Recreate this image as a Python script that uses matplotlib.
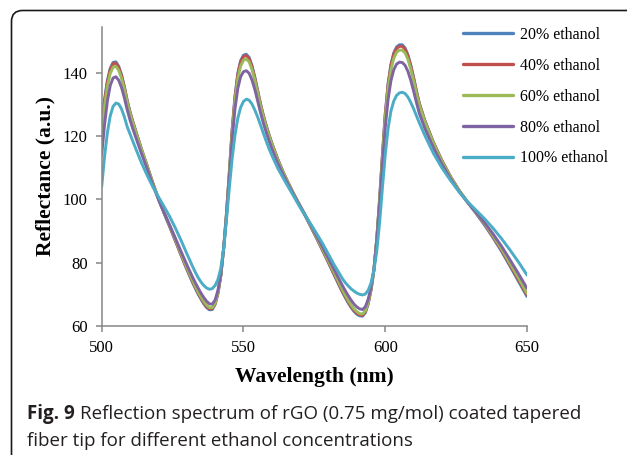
import matplotlib
matplotlib.use("Agg")
import matplotlib.pyplot as plt
from matplotlib.patches import FancyBboxPatch

# sampling grid (nm): 1 nm around peaks/dips, coarser on the slow slopes
wavelength = (list(range(500, 513)) + list(range(514, 533, 2)) + list(range(533, 554))
              + list(range(554, 561)) + list(range(562, 585, 2)) + list(range(585, 613))
              + list(range(614, 651, 3)))

# reflectance (a.u.), one list per concentration
eth_20 = [124, 131.5, 137.5, 141.3, 143.2, 143.4, 142, 139.3, 135.6, 131.2, 127.6, 124.5, 121.6,
          115.9, 110.6, 105.2, 100.2, 95.6, 91.3, 86.8, 82.3, 77.9, 73.8,
          71.9, 70.1, 68.5, 67, 65.8, 65.1, 65.2, 66.8, 70.2, 75.8, 84.5, 95.5, 108.5, 122,
          132.5, 139.8, 143.8, 145.5, 145.8, 144.8, 142.2,
          138.6, 134.4, 130.2, 126.6, 123.4, 120.5, 117.8,
          112.9, 108.6, 104.8, 101.2, 97.8, 94.4, 90.9, 87.3, 83.6, 79.9, 76.1, 72.3,
          70.5, 68.8, 67.2, 65.8, 64.6, 63.7, 63.2, 63.1, 64.2, 67, 71.4, 77.6, 87.5, 100,
          114, 127, 136.5, 142.6, 146.2, 148.1, 148.8, 148.8, 147.8, 145.6, 142.4, 138.5, 134.3, 130.4,
          124.8, 118, 112.2, 107.2, 102.8, 99.1, 95.6, 91.9, 87.9, 83.6, 78.9, 74.1, 69.3]

eth_40 = [123, 130.8, 137, 140.9, 142.8, 143, 141.6, 139, 135.3, 131, 127.4, 124.4, 121.5,
          115.9, 110.6, 105.2, 100.2, 95.7, 91.4, 87, 82.5, 78.1, 74.1,
          72.2, 70.4, 68.8, 67.3, 66.1, 65.4, 65.5, 67, 70.4, 75.9, 84.4, 95.3, 108.2, 121.6,
          132.1, 139.4, 143.4, 145.1, 145.4, 144.4, 141.9,
          138.3, 134.2, 130, 126.4, 123.2, 120.3, 117.6,
          112.8, 108.5, 104.8, 101.2, 97.9, 94.5, 91, 87.5, 83.8, 80.1, 76.3, 72.6,
          70.8, 69.1, 67.5, 66.1, 64.9, 64, 63.5, 63.4, 64.5, 67.2, 71.5, 77.6, 87.3, 99.7,
          113.6, 126.6, 136.1, 142.2, 145.8, 147.6, 148.3, 148.3, 147.4, 145.3, 142.1, 138.3, 134.1, 130.3,
          124.7, 117.9, 112.2, 107.2, 102.9, 99.2, 95.8, 92.2, 88.2, 84, 79.3, 74.6, 69.8]

eth_60 = [121, 129.3, 135.7, 139.7, 141.7, 142, 140.7, 138.2, 134.7, 130.6, 127.1, 124.1, 121.3,
          115.8, 110.6, 105.2, 100.3, 95.8, 91.6, 87.3, 82.8, 78.5, 74.5,
          72.6, 70.8, 69.2, 67.8, 66.6, 65.8, 65.8, 67.2, 70.6, 76, 84.3, 95, 107.6, 120.7,
          131, 138.1, 142.1, 143.9, 144.3, 143.4, 141,
          137.6, 133.6, 129.5, 126, 122.9, 120.1, 117.4,
          112.6, 108.4, 104.7, 101.2, 97.9, 94.6, 91.2, 87.7, 84.1, 80.5, 76.8, 73.1,
          71.3, 69.6, 68, 66.6, 65.4, 64.5, 63.9, 63.8, 64.8, 67.5, 71.7, 77.7, 87.1, 99.3,
          112.8, 125.6, 134.9, 140.9, 144.5, 146.4, 147.1, 147.1, 146.2, 144.2, 141.1, 137.5, 133.5, 129.9,
          124.4, 117.7, 112, 107.1, 102.8, 99.2, 95.9, 92.4, 88.5, 84.4, 79.8, 75.2, 70.3]

eth_80 = [114, 123.5, 131, 135.9, 138.3, 138.7, 137.6, 135.3, 132, 128.3, 125, 122.2, 119.6,
          114.5, 109.6, 104.6, 100, 95.8, 91.8, 87.7, 83.5, 79.4, 75.5,
          73.7, 72, 70.4, 69, 67.8, 67, 66.9, 68.2, 71.3, 76.4, 84.3, 94.5, 106.5, 118.8,
          128.5, 135, 138.7, 140.3, 140.6, 139.8, 137.7,
          134.7, 131.1, 127.4, 124.1, 121.2, 118.5, 116,
          111.6, 107.7, 104.2, 100.9, 97.8, 94.7, 91.5, 88.2, 84.8, 81.3, 77.8, 74.3,
          72.6, 71, 69.5, 68.1, 66.9, 66, 65.4, 65.2, 66.1, 68.5, 72.3, 77.9, 86.6, 98,
          110.7, 122.6, 131.5, 137.4, 140.9, 142.7, 143.3, 143.2, 142.3, 140.4, 137.6, 134.2, 130.6, 127.2,
          122.3, 116.3, 111.1, 106.5, 102.5, 99.1, 96, 92.7, 89.1, 85.2, 80.9, 76.5, 71.9]

eth_100 = [104, 113.5, 121, 126.3, 129.3, 130.4, 130.1, 128.5, 126, 122.9, 120.6, 118.3, 116,
           111.6, 107.6, 104, 100.8, 97.7, 94.5, 90.9, 87, 82.9, 78.9,
           77, 75.3, 73.9, 72.8, 72, 71.6, 71.8, 72.8, 74.7, 78.2, 84.3, 93.5, 103.5, 112.8,
           120.2, 125.6, 129, 130.9, 131.6, 131.3, 130.1,
           128.2, 126, 123.5, 120.9, 118.4, 116, 113.9,
           110, 106.7, 103.6, 100.5, 97.4, 94.6, 91.8, 88.9, 85.9, 82.6, 79.3, 76.3,
           74.8, 73.6, 72.6, 71.7, 71, 70.4, 70, 69.8, 70.1, 71.3, 73.6, 77.5, 83.5, 92.5,
           103.5, 114, 122.3, 127.8, 131, 132.8, 133.6, 133.8, 133.4, 132.3, 130.6, 128.6, 126.4, 124.2,
           120.1, 114.5, 109.9, 106, 102.4, 99.3, 96.6, 93.9, 90.9, 87.6, 84, 80.2, 76.1]

labels = ["20% ethanol", "40% ethanol", "60% ethanol", "80% ethanol", "100% ethanol"]
colors = ["#4F81BD", "#C0504D", "#9BBB59", "#8064A2", "#4BACC6"]

W, H = 627, 455
fig = plt.figure(figsize=(W / 100, H / 100), dpi=100)

# background layer in pixel units: rounded frame and caption
bg = fig.add_axes([0, 0, 1, 1], zorder=0)
bg.set_xlim(0, W)
bg.set_ylim(H, 0)
bg.axis("off")
frame = FancyBboxPatch((11.5, 10.5), 700, 600,
                       boxstyle="round,pad=0,rounding_size=11",
                       fc="none", ec="#1a1a1a", lw=1.2)
bg.add_patch(frame)

cap_font = "Open Sans"
cap_size = 13.5
t1 = bg.text(27, 419, "Fig. 9", fontsize=cap_size, family=cap_font,
             fontweight="bold", color="#231f20", va="baseline", ha="left")
fig.canvas.draw()
bb = t1.get_window_extent()
x_rest = 27 + bb.width + 5
bg.text(x_rest, 419, "Reflection spectrum of rGO (0.75 mg/mol) coated tapered",
        fontsize=cap_size, family=cap_font, color="#231f20", va="baseline", ha="left")
bg.text(27, 446, "fiber tip for different ethanol concentrations",
        fontsize=cap_size, family=cap_font, color="#231f20", va="baseline", ha="left")

# main chart
ax = fig.add_axes([101.7 / W, 1 - 326 / H, (527 - 101.7) / W, (326 - 26.7) / H], zorder=1)
ax.patch.set_alpha(0)
series = [eth_20, eth_40, eth_60, eth_80, eth_100]
for vals, lab, col in zip(series, labels, colors):
    ax.plot(wavelength, vals, color=col, lw=2.1, label=lab,
            solid_capstyle="round", solid_joinstyle="round")

ax.set_xlim(500, 650)
ax.set_ylim(60, 154.5)
ax.set_xticks([500, 550, 600, 650])
ax.set_yticks([60, 80, 100, 120, 140])
for s in ["top", "right"]:
    ax.spines[s].set_visible(False)
for s in ["left", "bottom"]:
    ax.spines[s].set_color("#868686")
    ax.spines[s].set_linewidth(1.1)
ax.tick_params(direction="out", length=4, width=1.1, color="#868686",
               labelsize=12, pad=6)
for lab in ax.get_xticklabels() + ax.get_yticklabels():
    lab.set_family("Liberation Serif")

ax.set_xlabel("Wavelength (nm)", family="Liberation Serif", fontweight="bold",
              fontsize=15.5, labelpad=8)
ax.set_ylabel("Reflectance (a.u.)", family="Liberation Serif", fontweight="bold",
              fontsize=15.5, labelpad=5)

leg = ax.legend(loc="upper left", bbox_to_anchor=(463 / W, 1 - 27 / H),
                bbox_transform=fig.transFigure, frameon=False,
                prop={"family": "Liberation Serif", "size": 11.5},
                handlelength=3.15, handletextpad=0.45, labelspacing=0.93,
                borderpad=0, borderaxespad=0)
for ln in leg.get_lines():
    ln.set_linewidth(2.4)

fig.savefig("out.png", dpi=100)
